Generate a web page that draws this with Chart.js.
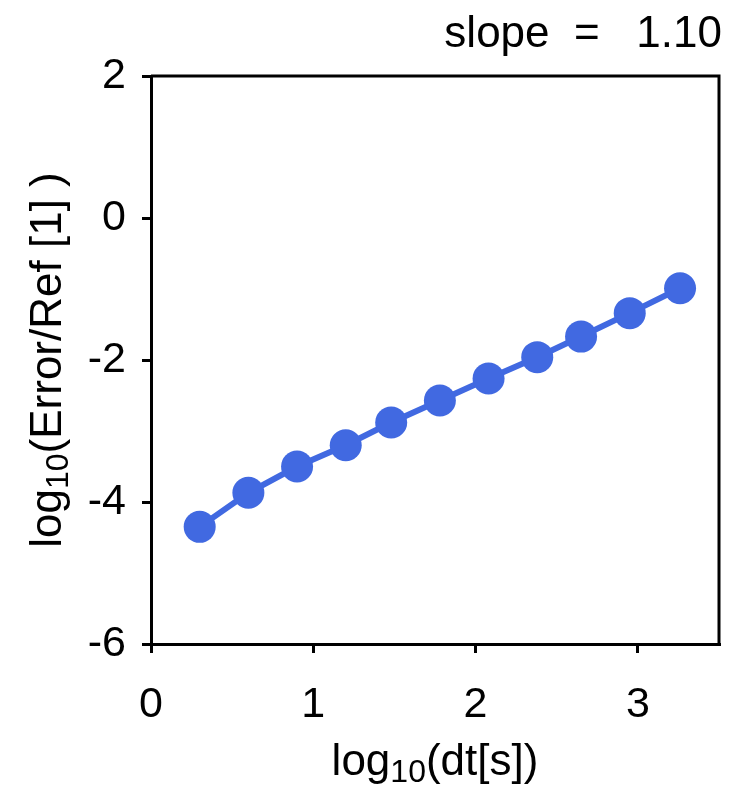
<!DOCTYPE html>
<html>
<head>
<meta charset="utf-8">
<script src="https://cdn.jsdelivr.net/npm/chart.js@4"></script>
<style>
  body { margin: 0; background: #fff; }
  #wrap { width: 729px; height: 789px; }
</style>
</head>
<body>
<div id="wrap"><canvas id="myChart" width="729" height="789"></canvas></div>
<script>
// values
const logDt = [0.30, 0.60, 0.90, 1.20, 1.48, 1.78, 2.08, 2.38, 2.65, 2.95, 3.26];
const logErr = [-4.35, -3.87, -3.50, -3.20, -2.88, -2.57, -2.26, -1.96, -1.67, -1.34, -0.99];
const xTicks = [0, 1, 2, 3];
const yTicks = [-6, -4, -2, 0, 2];
const slopeText = 'slope  =   1.10';

const fontFam = '"Liberation Sans", Arial, Helvetica, sans-serif';
const blue = '#4169e1';

// frame on top/right, axis titles with subscripts, slope label
const extras = {
    id: 'extras',
    afterDraw(chart) {
        const c = chart.ctx;
        const a = chart.chartArea;
        c.save();
        c.strokeStyle = '#000';
        c.lineWidth = 3;
        c.beginPath();
        c.moveTo(a.left, a.top);
        c.lineTo(a.right, a.top);
        c.lineTo(a.right, a.bottom);
        c.stroke();

        c.fillStyle = '#000';
        c.textBaseline = 'alphabetic';

        // slope text
        c.font = '44px ' + fontFam;
        c.textAlign = 'right';
        c.fillText(slopeText, 722, 47);

        // x title
        drawSub(c, 'log', '10', '(dt[s])', (a.left + a.right) / 2, 775);

        // y title, rotated
        c.translate(61, (a.top + a.bottom) / 2);
        c.rotate(-Math.PI / 2);
        drawSub(c, 'log', '10', '(Error/Ref [1] )', 0, 0);
        c.restore();
    }
};

function drawSub(c, pre, sub, post, cx, y) {
    c.textAlign = 'left';
    c.font = '44px ' + fontFam;
    const w1 = c.measureText(pre).width;
    const w3 = c.measureText(post).width;
    c.font = '32px ' + fontFam;
    const w2 = c.measureText(sub).width;
    let x = cx - (w1 + w2 + w3) / 2;
    c.font = '44px ' + fontFam;
    c.fillText(pre, x, y);
    x += w1;
    c.font = '32px ' + fontFam;
    c.fillText(sub, x, y + 7);
    x += w2;
    c.font = '44px ' + fontFam;
    c.fillText(post, x, y);
}

const ctx = document.getElementById('myChart').getContext('2d');
const myChart = new Chart(ctx, {
    type: 'line',
    data: {
        datasets: [{
            data: logDt.map((v, i) => ({ x: v, y: logErr[i] })),
            borderColor: blue,
            backgroundColor: blue,
            borderWidth: 6,
            pointRadius: 16,
            pointBorderWidth: 0,
            pointBackgroundColor: blue,
            tension: 0,
            fill: false
        }]
    },
    options: {
        responsive: false,
        animation: false,
        layout: { autoPadding: false, padding: { left: 0, right: 10, top: 76, bottom: 0 } },
        plugins: { legend: { display: false }, tooltip: { enabled: false } },
        scales: {
            x: {
                type: 'linear',
                min: 0,
                max: 3.5,
                afterBuildTicks: s => { s.ticks = xTicks.map(v => ({ value: v })); },
                afterFit: s => { s.height = 145; },
                grid: { drawOnChartArea: false, color: '#000', lineWidth: 3, tickLength: 9 },
                border: { color: '#000', width: 3 },
                ticks: { color: '#000', font: { family: fontFam, size: 43 }, padding: 26, maxRotation: 0 }
            },
            y: {
                min: -6,
                max: 2,
                afterBuildTicks: s => { s.ticks = yTicks.map(v => ({ value: v })); },
                afterFit: s => { s.width = 151; },
                grid: { drawOnChartArea: false, color: '#000', lineWidth: 3, tickLength: 9 },
                border: { color: '#000', width: 3 },
                ticks: { color: '#000', font: { family: fontFam, size: 43 }, padding: 16 }
            }
        }
    },
    plugins: [extras]
});
</script>
</body>
</html>
